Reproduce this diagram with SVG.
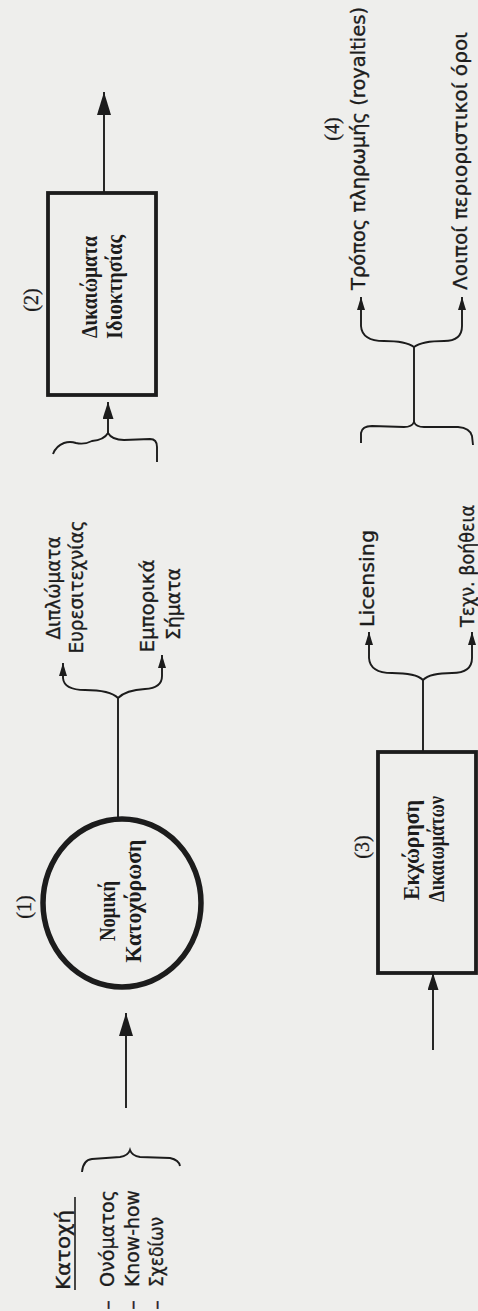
<svg xmlns="http://www.w3.org/2000/svg" width="478" height="1311" viewBox="0 0 478 1311">
<style>
.bg{fill:#eeeeec}
.ln{fill:none;stroke:#1c1c1c;stroke-width:1.9}
.box{fill:none;stroke:#1c1c1c;stroke-width:3.8}
.ring{fill:none;stroke:#1c1c1c;stroke-width:5.5}
.s{font-family:"DejaVu Sans","Noto Sans",sans-serif;font-size:19px;fill:#1c1c1c;stroke:#1c1c1c;stroke-width:0.35}
.b{font-family:"Liberation Serif","DejaVu Serif",serif;font-size:23px;font-weight:bold;fill:#1c1c1c}
.n{font-family:"Liberation Serif","DejaVu Serif",serif;font-size:20px;fill:#1c1c1c;stroke:#1c1c1c;stroke-width:0.3}
</style>
<defs>
<marker id="big" markerUnits="userSpaceOnUse" markerWidth="23" markerHeight="14" viewBox="0 0 23 14" refX="23" refY="7" orient="auto"><path d="M0,0 L23,7 L0,14 z" fill="#1c1c1c"/></marker>
<marker id="mid" markerUnits="userSpaceOnUse" markerWidth="17" markerHeight="11" viewBox="0 0 17 11" refX="17" refY="5.5" orient="auto"><path d="M0,0 L17,5.5 L0,11 z" fill="#1c1c1c"/></marker>
<marker id="sm" markerUnits="userSpaceOnUse" markerWidth="13" markerHeight="8" viewBox="0 0 13 8" refX="13" refY="4" orient="auto"><path d="M0,0 L13,4 L0,8 z" fill="#1c1c1c"/></marker>
</defs>
<rect class="bg" x="0" y="0" width="478" height="1311"/>

<g id="connectors">
<path class="ln" d="M82,1172 Q83,1160 92,1159 L120,1157 Q128,1156 130,1150 Q132,1156 140,1157 L170,1158 Q179,1160 180,1166"/>
<path class="ln" d="M126,1108 L126,1013" marker-end="url(#big)"/>
<path class="ln" d="M118,817 L118,698"/>
<path class="ln" d="M118,698 Q110,690 85,690 Q64,690 63,678 L63,663" marker-end="url(#sm)"/>
<path class="ln" d="M118,698 Q126,690 145,689 Q162,688 162,676 L162,655" marker-end="url(#sm)"/>
<path class="ln" d="M53,454 Q56,446 64,443 Q70,441 76,443 Q84,445 92,441 Q104,440 108,433 Q112,440 124,440 L150,439 Q157,439 157,447 L157,462"/>
<path class="ln" d="M108,433 L108,402" marker-end="url(#mid)"/>
<path class="ln" d="M104,193 L104,92" marker-end="url(#big)"/>
<path class="ln" d="M361,443 L361,433 Q362,426 372,426 L404,427 Q412,427 414,422 Q416,427 424,427 L458,427 Q470,428 472,436 L473,445"/>
<path class="ln" d="M414,422 L414,347"/>
<path class="ln" d="M414,347 Q406,341 384,341 Q362,341 361,326 L361,297" marker-end="url(#sm)"/>
<path class="ln" d="M414,347 Q422,341 444,341 Q462,341 462,326 L462,297" marker-end="url(#sm)"/>
<path class="ln" d="M423,752 L423,680"/>
<path class="ln" d="M423,680 Q416,673 392,673 Q370,673 369,658 L369,632" marker-end="url(#sm)"/>
<path class="ln" d="M423,680 Q430,673 452,673 Q472,673 472,658 L472,632" marker-end="url(#sm)"/>
<path class="ln" d="M433,1050 L433,973" marker-end="url(#mid)"/>
<path class="ln" d="M75,1290 L75,1197" style="stroke-width:1.6"/>
</g>

<g id="node-katochi">
<text class="s" transform="translate(70,1290) rotate(-90)" textLength="80" lengthAdjust="spacingAndGlyphs">Κατοχή</text>
<text class="s" transform="translate(114,1305) rotate(-90)" text-anchor="middle">–</text>
<text class="s" transform="translate(114,1287) rotate(-90)" textLength="97" lengthAdjust="spacingAndGlyphs">Ονόματος</text>
<text class="s" transform="translate(139,1305) rotate(-90)" text-anchor="middle">–</text>
<text class="s" transform="translate(139,1287) rotate(-90)" textLength="97" lengthAdjust="spacingAndGlyphs">Know-how</text>
<text class="s" transform="translate(163,1305) rotate(-90)" text-anchor="middle">–</text>
<text class="s" transform="translate(163,1287) rotate(-90)" textLength="70" lengthAdjust="spacingAndGlyphs">Σχεδίων</text>
</g>

<g id="node-1">
<ellipse class="ring" cx="122" cy="903" rx="79" ry="84"/>
<text class="n" transform="translate(31,907) rotate(-90)" text-anchor="middle">(1)</text>
<text class="b" transform="translate(115,911) rotate(-90)" text-anchor="middle" textLength="60" lengthAdjust="spacingAndGlyphs">Νομική</text>
<text class="b" transform="translate(141,901) rotate(-90)" text-anchor="middle" textLength="123" lengthAdjust="spacingAndGlyphs">Κατοχύρωση</text>
</g>

<g id="node-diplomata">
<text class="s" transform="translate(60,588) rotate(-90)" text-anchor="middle" textLength="103" lengthAdjust="spacingAndGlyphs">Διπλώματα</text>
<text class="s" transform="translate(83,587) rotate(-90)" text-anchor="middle" textLength="133" lengthAdjust="spacingAndGlyphs">Ευρεσιτεχνίας</text>
</g>
<g id="node-simata">
<text class="s" transform="translate(154,606) rotate(-90)" text-anchor="middle" textLength="93" lengthAdjust="spacingAndGlyphs">Εμπορικά</text>
<text class="s" transform="translate(180,604) rotate(-90)" text-anchor="middle" textLength="72" lengthAdjust="spacingAndGlyphs">Σήματα</text>
</g>

<g id="node-2">
<rect class="box" x="48" y="193" width="108" height="202"/>
<text class="n" transform="translate(38,300) rotate(-90)" text-anchor="middle">(2)</text>
<text class="b" transform="translate(97,287) rotate(-90)" text-anchor="middle" textLength="102" lengthAdjust="spacingAndGlyphs">Δικαιώματα</text>
<text class="b" transform="translate(122,287) rotate(-90)" text-anchor="middle" textLength="104" lengthAdjust="spacingAndGlyphs">Ιδιοκτησίας</text>
</g>

<g id="node-3">
<rect class="box" x="378" y="752" width="98" height="221"/>
<text class="n" transform="translate(369,847) rotate(-90)" text-anchor="middle">(3)</text>
<text class="b" transform="translate(419,850) rotate(-90)" text-anchor="middle" textLength="100" lengthAdjust="spacingAndGlyphs">Εκχώρηση</text>
<text class="b" transform="translate(444,849) rotate(-90)" text-anchor="middle" textLength="106" lengthAdjust="spacingAndGlyphs">Δικαιωμάτων</text>
</g>

<g id="node-licensing">
<text class="s" transform="translate(374,627) rotate(-90)" textLength="97" lengthAdjust="spacingAndGlyphs">Licensing</text>
</g>
<g id="node-voitheia">
<text class="s" transform="translate(474,627) rotate(-90)" textLength="122" lengthAdjust="spacingAndGlyphs">Τεχν. βοήθεια</text>
</g>

<g id="node-4">
<text class="n" transform="translate(339,129) rotate(-90)" text-anchor="middle">(4)</text>
<text class="s" transform="translate(365,290) rotate(-90)" textLength="283" lengthAdjust="spacingAndGlyphs">Τρόπος πληρωμής (royalties)</text>
</g>
<g id="node-loipoi">
<text class="s" transform="translate(467,290) rotate(-90)" textLength="258" lengthAdjust="spacingAndGlyphs">Λοιποί περιοριστικοί όροι</text>
</g>
</svg>
